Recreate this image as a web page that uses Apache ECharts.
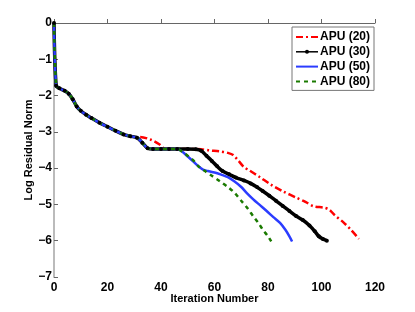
<!DOCTYPE html>
<html><head><meta charset="utf-8">
<script src="https://cdn.jsdelivr.net/npm/echarts@6/dist/echarts.min.js"></script>
<style>html,body{margin:0;padding:0;background:#fff}#c{width:415px;height:312px}</style>
</head><body><div id="c"></div>
<script>
// shared descent (all runs)
const common = [[0,0],[0.8,-1.73],[2,-1.80],[4,-1.87],[5.5,-1.95],[7,-2.1],[8.5,-2.3],[10,-2.42],[12,-2.53],[14,-2.62],[17,-2.75],[20,-2.86],[23,-2.97],[26,-3.07],[28.5,-3.12],[31,-3.16]];
const commonPlateau = [[33,-3.3],[35,-3.45],[37,-3.47],[40,-3.47],[43,-3.47],[46,-3.47]];
const apu20Tail = [[32,-3.14],[36,-3.21],[39.5,-3.35],[41,-3.45],[43,-3.47],[45,-3.47],[50,-3.47],[55,-3.48],[58,-3.51],[62,-3.54],[65,-3.58],[67,-3.64],[69,-3.8],[71,-3.97],[73,-4.06],[77,-4.25],[81,-4.45],[85.6,-4.64],[90.8,-4.82],[94,-4.93],[97,-5.05],[101,-5.09],[103,-5.15],[105,-5.3],[108,-5.48],[111,-5.7],[114,-5.95]];
const apu30Tail = [[50,-3.47],[53,-3.48],[55,-3.52],[57,-3.66],[59,-3.8],[61,-3.95],[63,-4.08],[65.5,-4.17],[68,-4.26],[71,-4.34],[73.5,-4.42],[76,-4.53],[78,-4.63],[80.5,-4.76],[83,-4.9],[85.5,-5.04],[88,-5.18],[90.5,-5.32],[93,-5.43],[95.5,-5.58],[97.5,-5.74],[99,-5.88],[100.5,-5.95],[102,-6.0]];
const apu50Tail = [[48,-3.55],[50,-3.68],[52,-3.81],[54,-3.95],[55.7,-4.04],[57.5,-4.08],[60,-4.12],[62.5,-4.18],[65,-4.25],[67.5,-4.37],[70,-4.52],[72,-4.68],[74.5,-4.86],[77,-5.02],[79.5,-5.18],[82,-5.35],[84.5,-5.51],[86.5,-5.7],[88,-5.88],[89,-6.02]];
const apu80Tail = [[48,-3.55],[50,-3.66],[52,-3.78],[54,-3.95],[56,-4.06],[59,-4.21],[62,-4.36],[65,-4.52],[67.5,-4.68],[70,-4.9],[72.5,-5.12],[74.5,-5.33],[76.5,-5.52],[78,-5.69],[80,-5.88],[81.2,-6.02]];
const seriesNames = ['APU (20)','APU (30)','APU (50)','APU (80)'];
const xTicks = [0,20,40,60,80,100,120];
const yTicks = [0,-1,-2,-3,-4,-5,-6,-7];

const F = 'Liberation Sans';
const chart = echarts.init(document.getElementById('c'));
const axisCommon = {
  splitLine:{show:false},
  axisTick:{inside:true,length:4,lineStyle:{color:'#666'}},
  axisLabel:{fontFamily:F,fontWeight:'bold',fontSize:12,color:'#000',formatter:v=>String(v).replace('-','\u2212')},
  nameTextStyle:{fontFamily:F,fontWeight:'bold',fontSize:11,color:'#000'},
  nameLocation:'middle',
  nameMoveOverlap:false
};
const hide = {opacity:0};
chart.setOption({
  animation:false,
  grid:{left:54,right:40,top:23,bottom:35,containLabel:false},
  xAxis:Object.assign({},axisCommon,{type:'value',min:xTicks[0],max:xTicks[xTicks.length-1],interval:20,
    name:'Iteration Number',nameGap:16,
    axisLine:{lineStyle:{color:'#666',width:1}},
    axisLabel:Object.assign({},axisCommon.axisLabel,{margin:5})}),
  yAxis:Object.assign({},axisCommon,{type:'value',min:yTicks[yTicks.length-1],max:yTicks[0],interval:1,
    name:'Log Residual Norm',nameGap:19.5,
    axisLine:{show:true,lineStyle:{color:'#bbb',width:2}},
    axisLabel:Object.assign({},axisCommon.axisLabel,{margin:2})}),
  legend:{orient:'vertical',left:292,top:27,padding:[4,4,3,3],itemGap:2.8,itemWidth:22,itemHeight:5,
    borderColor:'#777',borderWidth:1,backgroundColor:'#fff',
    textStyle:{fontFamily:F,fontWeight:'bold',fontSize:12,color:'#000',padding:[0,0,0,-3]},
    data:[{name:seriesNames[0],itemStyle:hide},{name:seriesNames[1],lineStyle:{width:1.5}},{name:seriesNames[2],itemStyle:hide},{name:seriesNames[3],itemStyle:hide}]},
  series:[
    {name:seriesNames[0],type:'line',data:common.concat(apu20Tail),symbol:'none',smooth:0.3,
      lineStyle:{color:'#ff0000',width:2.5,type:[7,3,2,3]},itemStyle:{color:'#ff0000'}},
    {name:seriesNames[1],type:'line',data:common.concat(commonPlateau,apu30Tail),symbol:'circle',symbolSize:4,showSymbol:true,smooth:0.3,
      lineStyle:{color:'#000',width:3.5},itemStyle:{color:'#000'}},
    {name:seriesNames[2],type:'line',data:common.concat(commonPlateau,apu50Tail),symbol:'none',smooth:0.3,
      lineStyle:{color:'#2b3cff',width:2.5},itemStyle:{color:'#2b3cff'}},
    {name:seriesNames[3],type:'line',data:common.concat(commonPlateau,apu80Tail),symbol:'none',smooth:0.3,
      lineStyle:{color:'#1a7a00',width:2.5,type:[4,4]},itemStyle:{color:'#1a7a00'}}
  ]
});
</script></body></html>
